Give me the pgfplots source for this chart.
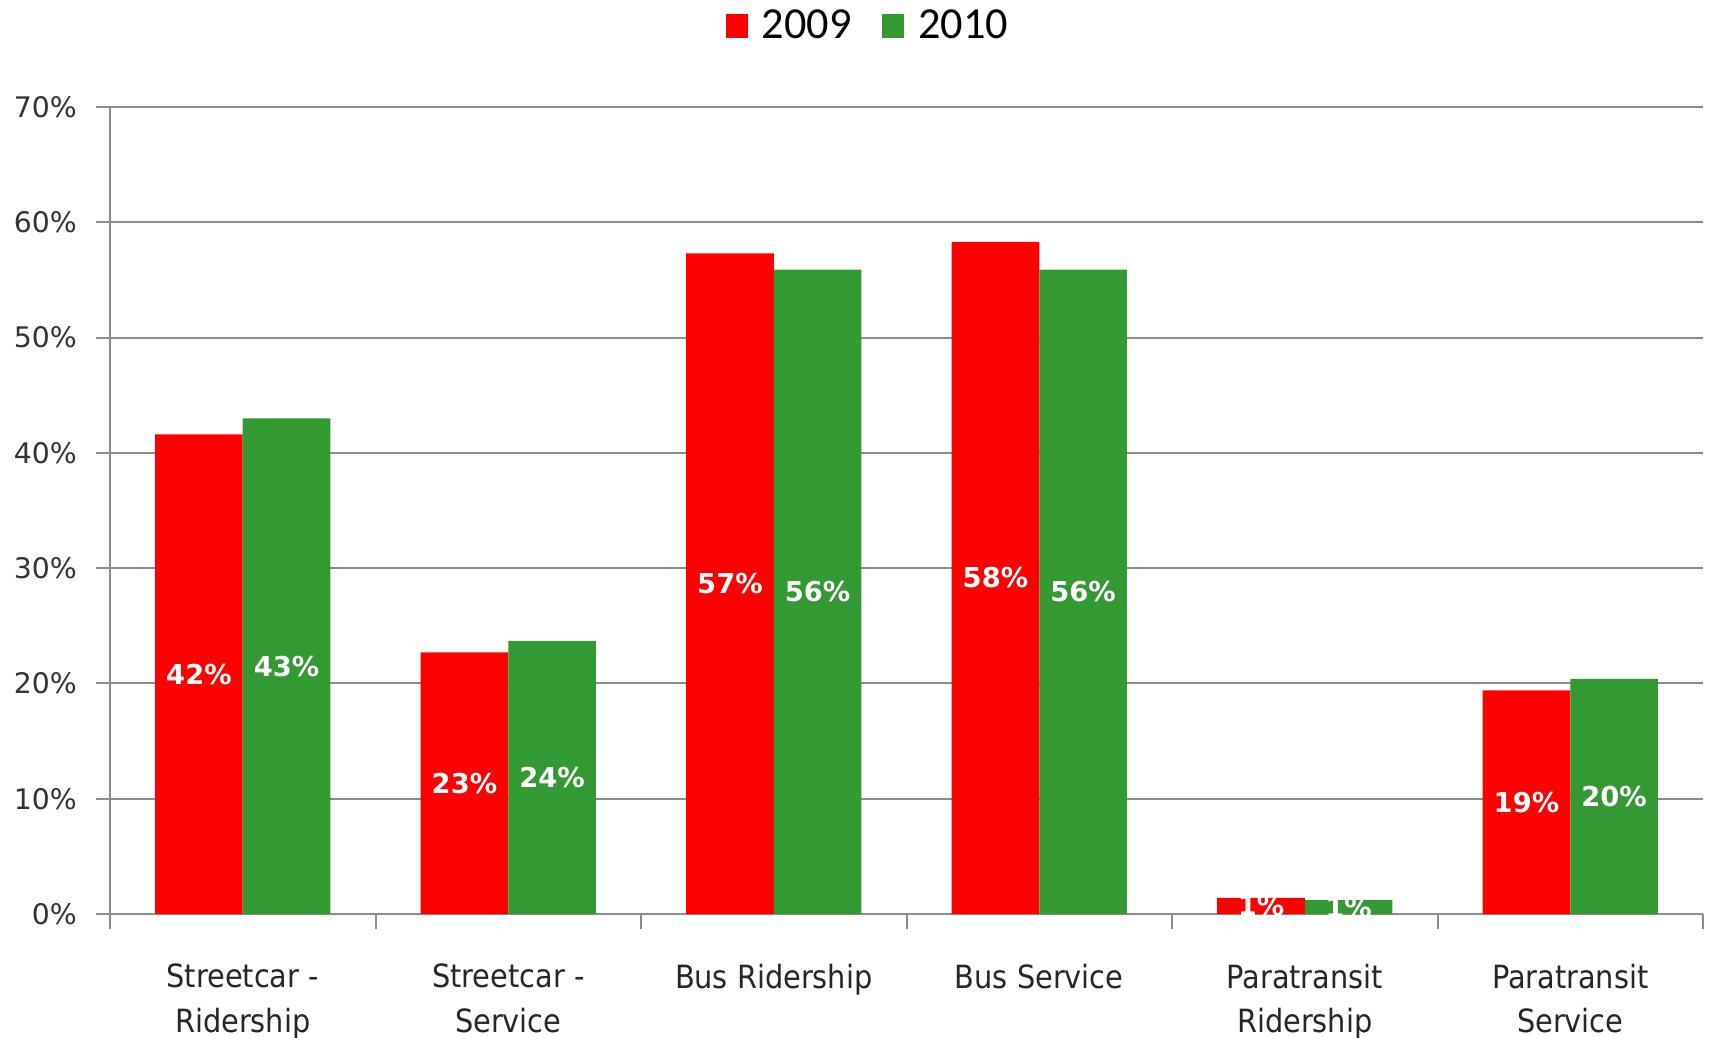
\documentclass[border=0pt]{standalone}
\usepackage{fontspec}
\setmainfont{DejaVu Sans}
\newfontfamily\cond{DejaVu Sans Condensed}
\newfontfamily\carl{Carlito}
\usepackage{pgfplots}
\pgfplotsset{compat=1.18}
\definecolor{cred}{HTML}{FF0000}
\definecolor{cgreen}{HTML}{339933}
\definecolor{gridgray}{HTML}{8C8C8C}
\begin{document}
\begin{tikzpicture}
\begin{axis}[
  at={(0,0)}, anchor=south west,
  scale only axis, width=477.9pt, height=242.1pt,
  ybar=0pt, bar width=0.33,
  xmin=-0.5, xmax=5.5, ymin=0, ymax=70,
  axis lines*=left,
  axis line style={-, draw=gridgray, line width=0.6pt},
  /pgf/number format/assume math mode=true,
  xtick={0,...,5},
  xticklabels={{Streetcar -\\Ridership},{Streetcar -\\Service},{Bus Ridership},{Bus Service},{Paratransit\\Ridership},{Paratransit\\Service}},
  minor xtick={-0.5,0.5,...,5.5},
  major x tick style={draw=none},
  minor x tick style={draw=gridgray, line width=0.6pt},
  minor tick length=4.5pt,
  tick align=outside,
  ytick={0,10,...,70},
  major y tick style={draw=gridgray, line width=0.6pt},
  major tick length=4.2pt,
  yticklabel={\pgfmathprintnumber{\tick}\%},
  yticklabel style={font=\fontsize{8.5}{10}\selectfont, text=black!80, xshift=-2.2pt},
  xticklabel style={align=center, font=\cond\fontsize{9.6}{13.3}\selectfont, text=black!85, yshift=-7.3pt},
  ymajorgrids,
  grid style={draw=gridgray, line width=0.6pt},
  nodes near coords={\pgfmathprintnumber[fixed,precision=0]{\pgfplotspointmeta}\%},
  visualization depends on={y \as \rawy},
  every node near coord/.append style={font=\fontsize{8.2}{10}\selectfont\bfseries, text=white, anchor=center, shift={(axis direction cs:0,-\rawy/2)}},
  legend style={at={(0.4795,1.1)}, anchor=center, draw=none, fill=none, legend columns=2,
    font=\carl\fontsize{13.3}{15}\selectfont,
    nodes={inner xsep=4.2pt},
    /tikz/every even column/.append style={column sep=5pt}},
]
\addplot[fill=cred, draw=none, legend image code/.code={\fill[cred] (0pt,-3.6pt) rectangle (6.6pt,3.6pt);}]
  coordinates {(0,41.6) (1,22.7) (2,57.3) (3,58.3) (4,1.4) (5,19.4)};
\addplot[fill=cgreen, draw=none, legend image code/.code={\fill[cgreen] (0pt,-3.6pt) rectangle (6.6pt,3.6pt);}]
  coordinates {(0,43.0) (1,23.7) (2,55.9) (3,55.9) (4,1.2) (5,20.4)};
\legend{2009,2010}
\end{axis}
\pgfresetboundingbox
\useasboundingbox (-33pt,-36.9pt) rectangle (480pt,274.2pt);
\end{tikzpicture}
\end{document}
